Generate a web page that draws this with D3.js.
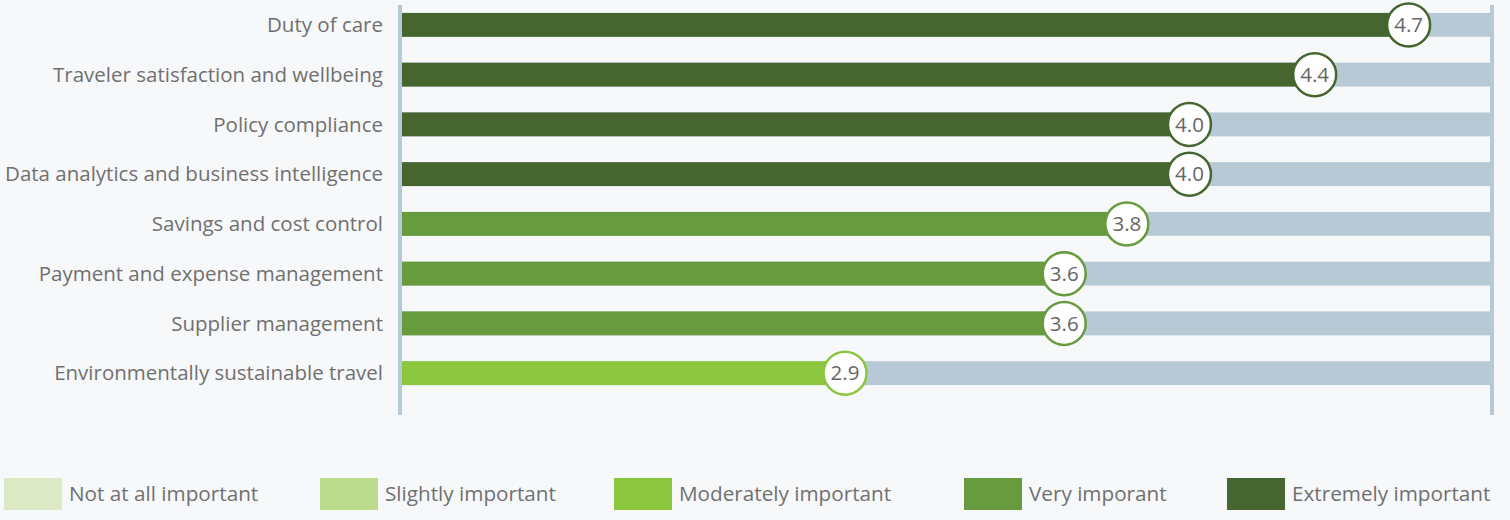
<!DOCTYPE html>
<html><head><meta charset="utf-8">
<script src="https://cdn.jsdelivr.net/npm/d3@7"></script>
<style>
html,body{margin:0;padding:0;background:#f7f8fa;}
svg{display:block;font-family:"Open Sans",sans-serif;}
</style></head>
<body>
<svg id="chart" width="1510" height="520"></svg>
<script>
const categories = ["Duty of care","Traveler satisfaction and wellbeing","Policy compliance","Data analytics and business intelligence","Savings and cost control","Payment and expense management","Supplier management","Environmentally sustainable travel"];
const values = [4.7, 4.4, 4.0, 4.0, 3.8, 3.6, 3.6, 2.9];
const levels = [4, 4, 4, 4, 3, 3, 3, 2];
const legendLabels = ["Not at all important","Slightly important","Moderately important","Very imporant","Extremely important"];
const legendColors = ["#dbeac4","#bddb8c","#8cc63f","#689a3e","#46652f"];

const svg = d3.select("#chart");
const x = d3.scaleLinear().domain([1.485, 4.96]).range([402, 1490]);
const y = d3.scaleBand().domain(categories).range([0, 398]).paddingInner(0.52).paddingOuter(0.26);
const bh = y.bandwidth();

// background bars
svg.append("g").selectAll("rect").data(categories).join("rect")
  .attr("x", x(1.485)).attr("width", x(4.96) - x(1.485))
  .attr("y", d => y(d)).attr("height", bh).attr("fill", "#b8c9d6");

// value bars
svg.append("g").selectAll("rect").data(categories).join("rect")
  .attr("x", x(1.485)).attr("width", (d,i) => x(values[i]) - x(1.485))
  .attr("y", d => y(d)).attr("height", bh).attr("fill", (d,i) => legendColors[levels[i]]);

// axis lines
svg.append("line").attr("x1", 400).attr("x2", 400).attr("y1", 5).attr("y2", 415)
  .attr("stroke", "#b8c9d6").attr("stroke-width", 4);
svg.append("line").attr("x1", 1492).attr("x2", 1492).attr("y1", 5).attr("y2", 415)
  .attr("stroke", "#b8c9d6").attr("stroke-width", 4);

// category labels
svg.append("g").selectAll("text").data(categories).join("text")
  .attr("x", 383).attr("y", d => y(d) + bh/2).attr("dy", "0.35em")
  .attr("text-anchor", "end").attr("font-size", 20.5).attr("fill", "#707070")
  .text(d => d);

// bubbles
const bub = svg.append("g").selectAll("g").data(categories).join("g")
  .attr("transform", (d,i) => `translate(${x(values[i])},${y(d) + bh/2})`);
bub.append("circle").attr("r", 21.5).attr("fill", "#ffffff")
  .attr("stroke", (d,i) => legendColors[levels[i]]).attr("stroke-width", 2.5);
bub.append("text").attr("text-anchor", "middle").attr("dy", "0.35em")
  .attr("font-size", 20.5).attr("fill", "#666666")
  .text((d,i) => d3.format(".1f")(values[i]));

// legend
const legendX = [4, 320, 614, 964, 1227];
const lg = svg.append("g").selectAll("g").data(legendLabels).join("g")
  .attr("transform", (d,i) => `translate(${legendX[i]},478)`);
lg.append("rect").attr("width", 58).attr("height", 32).attr("fill", (d,i) => legendColors[i]);
lg.append("text").attr("x", 65).attr("y", 16).attr("dy", "0.35em")
  .attr("font-size", 20.7).attr("fill", "#707070").text(d => d);
</script>
</body></html>
